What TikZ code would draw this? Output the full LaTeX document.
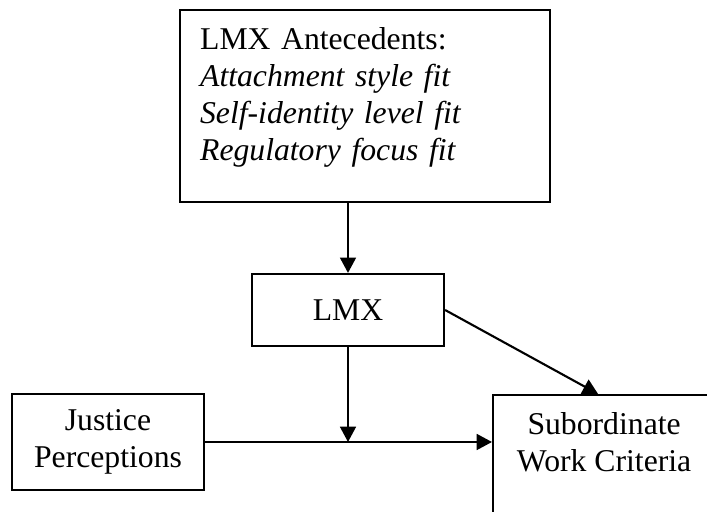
\documentclass[tikz,border=0pt]{standalone}
\usepackage{fontspec}
\setmainfont{Liberation Serif}
\usetikzlibrary{arrows.meta}
\usetikzlibrary{positioning}
\tikzset{
box/.style={
	rectangle,
	text centered,
	align=center,
	draw=black,
	line width=0.8pt,
	fill=white,
	font=\fontsize{12}{14}\selectfont
},
arrow/.style={
	-{Triangle[length=5.8pt,width=6pt]},
	draw=black,
	line width=0.8pt
}
}

\begin{document}
\begin{tikzpicture}[x=0.01331cm, y=-0.01331cm]
\useasboundingbox (0,0) rectangle (707,512);

\node (ante) [box, anchor=north west, align=left, text width=4.39cm, inner xsep=7.6pt, inner ysep=6.5pt, text depth=51.2pt] at (179,9) {LMX Antecedents:\\\textit{Attachment style fit}\\\textit{Self-identity level fit}\\\textit{Regulatory focus fit}};
\node (lmx)  [box, minimum width=2.556cm, minimum height=0.958cm] at (348,310) {LMX};
\node (just) [box, minimum width=2.556cm, minimum height=1.278cm] at (108,442) {Justice\\Perceptions};
\node (sub)  [box, anchor=north west, minimum width=2.955cm, inner ysep=6.6pt, text depth=30pt] at (492,394) {Subordinate\\Work Criteria};

\coordinate (mod) at (lmx.south |- just.east);

\draw [arrow] (ante.south -| lmx.north) -- (lmx.north);
\draw [arrow] (lmx.south) -- (mod);
\draw [arrow] (just.east) -- (just.east -| sub.west);
\draw [arrow] (lmx.east) -- ([xshift=-0.08cm]sub.north);

\end{tikzpicture}
\end{document}
